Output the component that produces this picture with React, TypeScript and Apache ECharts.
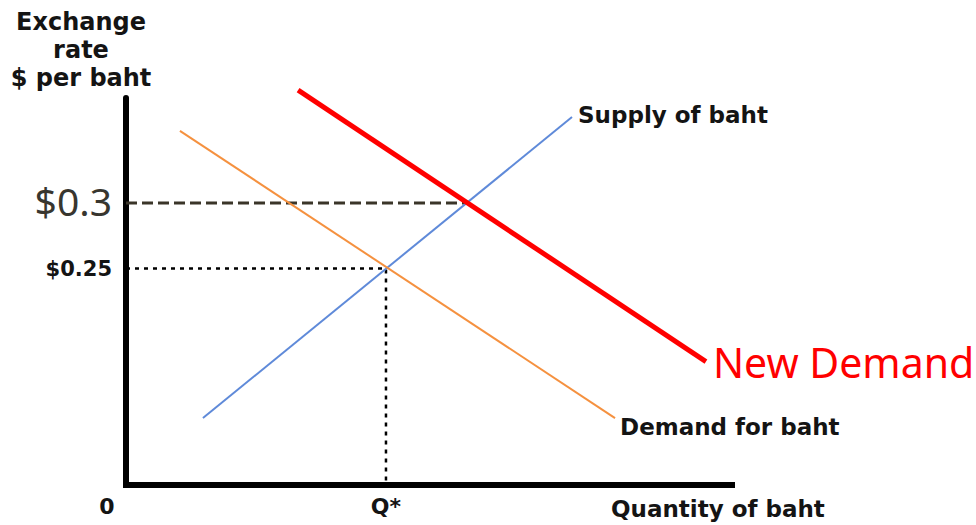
import React, { useEffect, useRef } from "react";
import * as echarts from "echarts";

// Quantity of baht (x) vs exchange rate in $ per baht (y)
const supplyOfBaht: [number, number][] = [
  [12.7, 0.136],
  [73.6, 0.3655],
];
const demandForBaht: [number, number][] = [
  [8.9, 0.355],
  [80.7, 0.136],
];
const newDemand: [number, number][] = [
  [28.4, 0.386],
  [95.7, 0.179],
];
const oldPrice = 0.25;
const oldQuantity = 42.9;
const newPrice = 0.3;
const newQuantity = 56.1;
const priceLabels = ["$0.3", "$0.25"];
const quantityLabels = ["0", "Q*"];
const seriesNames = ["Supply of baht", "Demand for baht", "New Demand"];
const X_MIN = 0;
const X_MAX = 100;
const Y_MIN = 0.085;
const Y_MAX = 0.38;

const BOLD = "DejaVu Sans";
const TXT = "#141414";

const boldLabel = (text: string, size: number, extra: object) => ({
  show: true,
  formatter: text,
  fontFamily: BOLD,
  fontWeight: "bold",
  fontSize: size,
  color: TXT,
  ...extra,
});

export default function App() {
  const ref = useRef<HTMLDivElement>(null);
  useEffect(() => {
    if (!ref.current) return;
    const chart = echarts.init(ref.current, null, { renderer: "svg" });
    chart.setOption({
      animation: false,
      backgroundColor: "#ffffff",
      grid: { left: 126, right: 244, top: 98, bottom: 40 },
      xAxis: {
        type: "value",
        min: X_MIN,
        max: X_MAX,
        axisLine: { onZero: false, lineStyle: { color: "#000", width: 6, cap: "square" } },
        axisTick: { show: false },
        axisLabel: { show: false },
        splitLine: { show: false },
      },
      yAxis: {
        type: "value",
        min: Y_MIN,
        max: Y_MAX,
        axisLine: { show: true, lineStyle: { color: "#000", width: 6 } },
        axisTick: { show: false },
        axisLabel: { show: false },
        splitLine: { show: false },
      },
      graphic: [
        {
          type: "text",
          x: 81,
          y: 8,
          style: {
            text: "Exchange\nrate\n$ per baht",
            font: `bold 24px '${BOLD}'`,
            fill: TXT,
            align: "center",
            lineHeight: 28,
          },
        },
        {
          type: "text",
          x: 611,
          y: 497,
          style: {
            text: "Quantity of baht",
            font: `bold 23px '${BOLD}'`,
            fill: TXT,
            align: "left",
          },
        },
      ],
      series: [
        {
          type: "line",
          name: "price030",
          clip: false,
          symbol: "none",
          silent: true,
          lineStyle: { color: "#3a3529", width: 3, type: [11, 5] },
          data: [
            [X_MIN, newPrice],
            [newQuantity, newPrice],
          ],
        },
        {
          type: "line",
          name: "price025",
          clip: false,
          symbol: "none",
          silent: true,
          lineStyle: { color: "#000", width: 2.5, type: [4, 5] },
          data: [
            [X_MIN, oldPrice],
            [oldQuantity, oldPrice],
            [oldQuantity, Y_MIN],
          ],
        },
        {
          type: "scatter",
          name: "labels",
          symbolSize: 0,
          silent: true,
          clip: false,
          itemStyle: { opacity: 1 },
          data: [
            {
              value: [X_MIN, newPrice],
              label: {
                show: true,
                position: "left",
                distance: 14,
                offset: [0, -2],
                formatter: priceLabels[0],
                fontFamily: "Noto Sans",
                fontSize: 39,
                color: "#38362f",
              },
            },
            {
              value: [X_MIN, oldPrice],
              label: boldLabel(priceLabels[1], 21, { position: "left", distance: 14 }),
            },
            {
              value: [oldQuantity, Y_MIN],
              label: boldLabel(quantityLabels[1], 22, { position: "bottom", distance: 10 }),
            },
            {
              value: [X_MIN, Y_MIN],
              label: boldLabel(quantityLabels[0], 22, {
                position: "bottom",
                distance: 10,
                offset: [-19, 0],
              }),
            },
          ],
        },
        {
          type: "line",
          name: seriesNames[0],
          clip: false,
          symbol: "none",
          lineStyle: { color: "#5f8ad9", width: 2 },
          data: supplyOfBaht,
          endLabel: boldLabel(seriesNames[0], 23, { distance: 6, offset: [0, -2] }),
        },
        {
          type: "line",
          name: seriesNames[1],
          clip: false,
          symbol: "none",
          lineStyle: { color: "#f5913f", width: 2 },
          data: demandForBaht,
          endLabel: boldLabel(seriesNames[1], 23, { distance: 5, offset: [0, 9] }),
        },
        {
          type: "line",
          name: seriesNames[2],
          clip: false,
          symbol: "none",
          lineStyle: { color: "#ff0000", width: 5 },
          data: newDemand,
          endLabel: {
            show: true,
            formatter: seriesNames[2],
            distance: 7,
            fontFamily: "Noto Sans",
            fontSize: 41,
            color: "#ff0000",
          },
        },
      ],
    });
    return () => chart.dispose();
  }, []);
  return (
    <div
      ref={ref}
      style={{ position: "fixed", left: 0, top: 0, width: 976, height: 525 }}
    />
  );
}
